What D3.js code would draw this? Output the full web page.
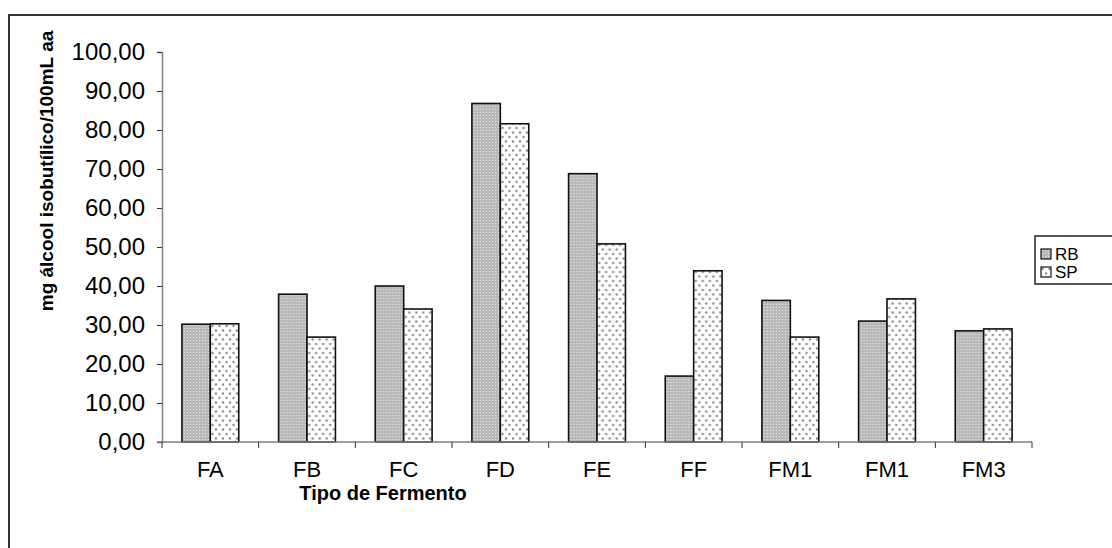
<!DOCTYPE html>
<html>
<head>
<meta charset="utf-8">
<script src="https://cdn.jsdelivr.net/npm/d3@7"></script>
<style>
body { margin: 0; background: #fff; }
text { font-family: "Liberation Sans", Arial, sans-serif; }
</style>
</head>
<body>
<div id="chart"></div>
<script>
var categories = ["FA", "FB", "FC", "FD", "FE", "FF", "FM1", "FM1", "FM3"];
var seriesNames = ["RB", "SP"];
var rbValues = [30.2, 37.9, 40.0, 86.8, 68.8, 16.9, 36.3, 31.0, 28.5];
var spValues = [30.3, 26.9, 34.1, 81.6, 50.8, 43.9, 26.9, 36.7, 29.0];
var yTicks = [0, 10, 20, 30, 40, 50, 60, 70, 80, 90, 100];

var width = 1112, height = 548;
var margin = {left: 162, right: 80, top: 52, bottom: 106};

var svg = d3.select("#chart").append("svg")
	.attr("width", width)
	.attr("height", height);

var defs = svg.append("defs");

// grey fill with small light dots for RB
var p1 = defs.append("pattern")
	.attr("id", "patRB")
	.attr("width", 3).attr("height", 3)
	.attr("patternUnits", "userSpaceOnUse");
p1.append("rect").attr("width", 3).attr("height", 3).attr("fill", "#b9b9b9");
p1.append("rect").attr("x", 1).attr("y", 1).attr("width", 1).attr("height", 1).attr("fill", "#e6e6e6");

// sparse dots for SP
var p2 = defs.append("pattern")
	.attr("id", "patSP")
	.attr("width", 7).attr("height", 9)
	.attr("patternUnits", "userSpaceOnUse");
p2.append("rect").attr("width", 7).attr("height", 9).attr("fill", "#fff");
p2.append("circle").attr("cx", 1.5).attr("cy", 2).attr("r", 1.2).attr("fill", "#8c8c8c");
p2.append("circle").attr("cx", 5).attr("cy", 6.5).attr("r", 1.2).attr("fill", "#8c8c8c");

var fills = ["url(#patRB)", "url(#patSP)"];

// outer frame
svg.append("path")
	.attr("d", "M9,560 L9,15 L1120,15")
	.attr("fill", "none")
	.attr("stroke", "#333")
	.attr("stroke-width", 2);

var x = d3.scaleBand()
	.domain(d3.range(categories.length))
	.range([margin.left, width - margin.right]);

var x1 = d3.scaleBand()
	.domain(seriesNames)
	.range([0, x.bandwidth()])
	.paddingInner(0)
	.paddingOuter(0.7);

var y = d3.scaleLinear()
	.domain([0, 100])
	.range([height - margin.bottom, margin.top]);

var data = categories.map(function(c, i) {
	return {cat: c, i: i, vals: [rbValues[i], spValues[i]]};
});

// y axis
var yAxis = svg.append("g")
	.attr("transform", "translate(" + margin.left + ",0)")
	.call(d3.axisLeft(y).tickValues(yTicks).tickSize(5).tickPadding(12)
		.tickFormat(function(d) { return d3.format(".2f")(d).replace(".", ","); }));
yAxis.select(".domain").attr("stroke", "#808080").attr("stroke-width", 1.5);
yAxis.selectAll(".tick line").attr("stroke", "#333");
yAxis.selectAll(".tick text").attr("font-size", 24).attr("fill", "#000")
	.attr("font-family", "Liberation Sans, Arial, sans-serif");

// bars
var groups = svg.selectAll(".grp")
	.data(data).enter()
	.append("g")
	.attr("transform", function(d) { return "translate(" + x(d.i) + ",0)"; });

groups.selectAll("rect")
	.data(function(d) { return d.vals.map(function(v, k) { return {v: v, k: k}; }); })
	.enter().append("rect")
	.attr("x", function(d) { return x1(seriesNames[d.k]); })
	.attr("y", function(d) { return y(d.v); })
	.attr("width", x1.bandwidth())
	.attr("height", function(d) { return y(0) - y(d.v); })
	.attr("fill", function(d) { return fills[d.k]; })
	.attr("stroke", "#111")
	.attr("stroke-width", 1.6);

// x axis
var xAxis = svg.append("g")
	.attr("transform", "translate(0," + y(0) + ")");
xAxis.append("line")
	.attr("x1", margin.left - 5).attr("x2", width - margin.right)
	.attr("stroke", "#808080").attr("stroke-width", 1.5);
xAxis.selectAll(".xt")
	.data(d3.range(categories.length + 1)).enter()
	.append("line")
	.attr("x1", function(d) { return margin.left + d * x.step(); })
	.attr("x2", function(d) { return margin.left + d * x.step(); })
	.attr("y1", 0).attr("y2", 6)
	.attr("stroke", "#333");
xAxis.selectAll(".xl")
	.data(data).enter()
	.append("text")
	.attr("x", function(d) { return x(d.i) + x.bandwidth() / 2; })
	.attr("y", 35)
	.attr("text-anchor", "middle")
	.attr("font-size", 22)
	.text(function(d) { return d.cat; });

// axis titles
svg.append("text")
	.attr("x", 383).attr("y", 500)
	.attr("text-anchor", "middle")
	.attr("font-size", 20)
	.attr("font-weight", "bold")
	.text("Tipo de Fermento");

svg.append("text")
	.attr("transform", "translate(53,171) rotate(-90)")
	.attr("text-anchor", "middle")
	.attr("font-size", 19)
	.attr("font-weight", "bold")
	.text("mg álcool isobutílico/100mL aa");

// legend
var legend = svg.append("g").attr("transform", "translate(1035,236)");
legend.append("rect")
	.attr("width", 90).attr("height", 48)
	.attr("fill", "#fff").attr("stroke", "#222").attr("stroke-width", 1.5);
var li = legend.selectAll(".li")
	.data(seriesNames).enter()
	.append("g")
	.attr("transform", function(d, i) { return "translate(6," + (13 + i * 18) + ")"; });
li.append("rect")
	.attr("width", 10).attr("height", 10)
	.attr("fill", function(d, i) { return fills[i]; })
	.attr("stroke", "#111").attr("stroke-width", 1.2);
li.append("text")
	.attr("x", 14).attr("y", 11)
	.attr("font-size", 17)
	.text(function(d) { return d; });
</script>
</body>
</html>
